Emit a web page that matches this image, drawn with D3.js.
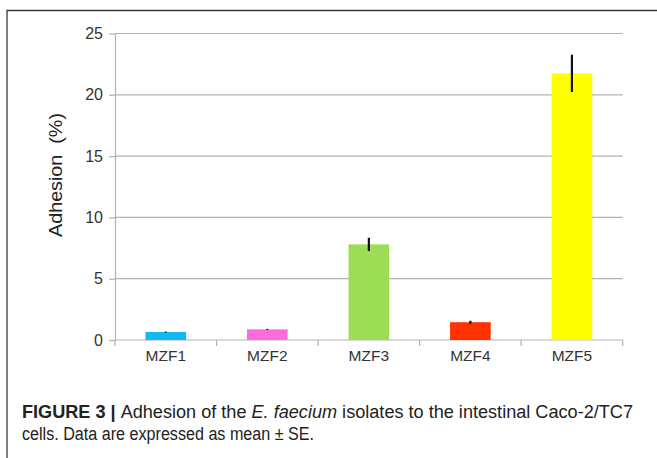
<!DOCTYPE html>
<html>
<head>
<meta charset="utf-8">
<script src="https://cdn.jsdelivr.net/npm/d3@7"></script>
<style>
  html, body { margin: 0; padding: 0; background: #fff; }
  svg { display: block; }
</style>
</head>
<body>
<svg id="chart" width="657" height="458"></svg>
<script>
// Adhesion of E. faecium isolates to Caco-2/TC7 cells (mean ± SE)
const categories = ["MZF1", "MZF2", "MZF3", "MZF4", "MZF5"];
const adhesion = [0.65, 0.87, 7.8, 1.45, 21.75];
const stdErr = [0.04, 0.04, 0.54, 0.12, 1.52];
const barColors = ["#10b8f4", "#fb6ddc", "#9ddc55", "#ff3300", "#ffff00"];
const yTicks = [0, 5, 10, 15, 20, 25];

const svg = d3.select("#chart");
const W = 657, H = 458;
const plot = { left: 115, right: 622.7, top: 33.5, bottom: 340 };

// figure frame (top and left edges)
svg.append("path")
  .attr("d", `M7,${H} V10.5 H${W}`)
  .attr("fill", "none")
  .attr("stroke", "#3a3a3a")
  .attr("stroke-width", 1.3);

const x = d3.scaleBand()
  .domain(categories)
  .range([plot.left, plot.right])
  .paddingInner(0.6)
  .paddingOuter(0.3);

const y = d3.scaleLinear()
  .domain([0, 25])
  .range([plot.bottom, plot.top]);

const g = svg.append("g");

// horizontal gridlines
g.append("g")
  .selectAll("line")
  .data(yTicks.filter(t => t > 0))
  .join("line")
  .attr("x1", plot.left)
  .attr("x2", plot.right)
  .attr("y1", d => y(d))
  .attr("y2", d => y(d))
  .attr("stroke", "#b3b3b3")
  .attr("stroke-width", 1.2);

// y axis
const yAxis = g.append("g")
  .attr("transform", `translate(${plot.left},0)`)
  .call(d3.axisLeft(y).tickValues(yTicks).tickSize(6).tickPadding(6).tickSizeOuter(0));
yAxis.select(".domain").attr("stroke", "#b3b3b3").attr("stroke-width", 1.2);
yAxis.selectAll(".tick line").attr("stroke", "#b3b3b3").attr("stroke-width", 1.2);
yAxis.selectAll(".tick text")
  .attr("font-family", "Liberation Sans, Arial, sans-serif")
  .attr("font-size", 16)
  .attr("fill", "#333");

// x axis with ticks at category boundaries
const step = x.step();
const boundaries = d3.range(categories.length + 1).map(i => plot.left + i * step);
g.append("line")
  .attr("x1", plot.left).attr("x2", plot.right)
  .attr("y1", plot.bottom).attr("y2", plot.bottom)
  .attr("stroke", "#b3b3b3").attr("stroke-width", 1.2);
g.append("g")
  .selectAll("line")
  .data(boundaries)
  .join("line")
  .attr("x1", d => d).attr("x2", d => d)
  .attr("y1", plot.bottom).attr("y2", plot.bottom + 6)
  .attr("stroke", "#b3b3b3").attr("stroke-width", 1.2);

g.append("g")
  .selectAll("text")
  .data(categories)
  .join("text")
  .attr("x", d => x(d) + x.bandwidth() / 2)
  .attr("y", plot.bottom + 21)
  .attr("text-anchor", "middle")
  .attr("font-family", "Liberation Sans, Arial, sans-serif")
  .attr("font-size", 15.5)
  .attr("fill", "#333")
  .text(d => d);

// bars
g.append("g")
  .selectAll("rect")
  .data(categories)
  .join("rect")
  .attr("x", d => x(d))
  .attr("width", x.bandwidth())
  .attr("y", (d, i) => y(adhesion[i]))
  .attr("height", (d, i) => y(0) - y(adhesion[i]))
  .attr("fill", (d, i) => barColors[i]);

// error bars (no caps)
g.append("g")
  .selectAll("line")
  .data(categories)
  .join("line")
  .attr("x1", d => x(d) + x.bandwidth() / 2)
  .attr("x2", d => x(d) + x.bandwidth() / 2)
  .attr("y1", (d, i) => y(adhesion[i] + stdErr[i]))
  .attr("y2", (d, i) => y(adhesion[i] - stdErr[i]))
  .attr("stroke", "#111")
  .attr("stroke-width", 2.2);

// y axis title
svg.append("text")
  .attr("transform", "translate(62,175) rotate(-90)")
  .attr("text-anchor", "middle")
  .attr("font-family", "Liberation Sans, Arial, sans-serif")
  .attr("font-size", 18)
  .attr("fill", "#222")
  .attr("textLength", 124)
  .attr("lengthAdjust", "spacingAndGlyphs")
  .text("Adhesion  (%)")
  .attr("xml:space", "preserve")
  .style("white-space", "pre");

// caption
const cap = svg.append("g")
  .attr("font-family", "Liberation Sans, Arial, sans-serif")
  .attr("font-size", 18)
  .attr("fill", "#222");

const line1 = cap.append("text")
  .attr("x", 22).attr("y", 418)
  .attr("textLength", 611)
  .attr("lengthAdjust", "spacingAndGlyphs");
line1.append("tspan").attr("font-weight", "bold").text("FIGURE 3 | ");
line1.append("tspan").text("Adhesion of the ");
line1.append("tspan").attr("font-style", "italic").text("E. faecium");
line1.append("tspan").text(" isolates to the intestinal Caco-2/TC7");

cap.append("text")
  .attr("x", 22).attr("y", 440)
  .attr("textLength", 292)
  .attr("lengthAdjust", "spacingAndGlyphs")
  .text("cells. Data are expressed as mean \u00b1 SE.");
</script>
</body>
</html>
